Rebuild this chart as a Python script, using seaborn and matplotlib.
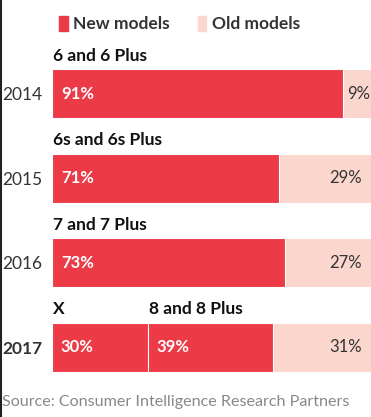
import pandas as pd
import matplotlib.pyplot as plt
import seaborn as sns
from matplotlib.patches import Patch
from matplotlib.lines import Line2D

years = ['2014', '2015', '2016', '2017']
first_share = [0, 0, 0, 30]          # iPhone X (2017 only)
main_share = [91, 71, 73, 39]        # flagship new models
old_share = [9, 29, 27, 31]
first_names = ['', '', '', 'X']
main_names = ['6 and 6 Plus', '6s and 6s Plus', '7 and 7 Plus', '8 and 8 Plus']

RED = '#EC3A47'
PINK = '#FBD6CD'
DARK = '#333333'

df = pd.DataFrame({'year': years, 'first': first_share,
                   'main': main_share, 'old': old_share})
df['new_total'] = df['first'] + df['main']
df['total'] = df['new_total'] + df['old']

sns.set_style('white')
plt.rcParams['font.family'] = ['Lato', 'DejaVu Sans']

fig = plt.figure(figsize=(3.71, 4.17), dpi=100)
ax = fig.add_axes([0.140, 0.0665, 0.862, 0.8105])

# layered bars: full (old) -> new total -> first segment
bar_kw = dict(order=years, width=0.58, edgecolor='white', linewidth=0.8,
              saturation=1, ax=ax)
sns.barplot(data=df, x='total', y='year', color=PINK, **bar_kw)
sns.barplot(data=df, x='new_total', y='year', color=RED, **bar_kw)
sub = df[df['first'] > 0]
sns.barplot(data=sub, x='first', y='year', color=RED, **bar_kw)

ax.set_xlim(0, 100)
ax.set_ylim(3.5, -0.5)
ax.set_xlabel('')
ax.set_ylabel('')
ax.set_xticks([])
sns.despine(ax=ax, left=True, bottom=True)
ax.tick_params(axis='y', length=0, pad=7, labelsize=12.5, labelcolor=DARK)
for lab in ax.get_yticklabels():
    if lab.get_text() == '2017':
        lab.set_fontweight('bold')

for i, row in df.iterrows():
    top = i - 0.29 - 0.06
    if row['first'] > 0:
        ax.text(0.2, top, first_names[i], ha='left', va='bottom',
                fontsize=12.5, fontweight='bold', color='#111111')
        ax.text(2.8, i, f"{row['first']}%", ha='left', va='center',
                fontsize=12, fontweight='bold', color='white')
    ax.text(row['first'] + 0.4, top, main_names[i], ha='left', va='bottom',
            fontsize=12.5, fontweight='bold', color='#111111')
    ax.text(row['first'] + 2.8, i, f"{row['main']}%", ha='left', va='center',
            fontsize=12, fontweight='bold', color='white')
    if row['old'] < 15:
        ax.text(row['new_total'] + row['old'] / 2 + 0.3, i, f"{row['old']}%",
                ha='center', va='center', fontsize=12, color=DARK)
    else:
        ax.text(row['total'] - 3.2, i, f"{row['old']}%", ha='right',
                va='center', fontsize=12, color=DARK)

handles = [Patch(color=RED, label='New models'),
           Patch(color=PINK, label='Old models')]
fig.legend(handles=handles, loc='upper left', bbox_to_anchor=(0.118, 1.0),
           ncol=2, frameon=False, handlelength=0.5,
           handleheight=1.0, handletextpad=0.3, columnspacing=1.6,
           prop={'weight': 'bold', 'size': 12.5}, labelcolor=DARK)

fig.text(0.006, 0.018, 'Source: Consumer Intelligence Research Partners',
         ha='left', va='bottom', fontsize=11.6, color='#888888')

fig.add_artist(Line2D([0.002, 0.002], [0, 1], transform=fig.transFigure,
                      color='#222222', linewidth=1.5))

plt.savefig('out.png', dpi=100)
plt.close()
